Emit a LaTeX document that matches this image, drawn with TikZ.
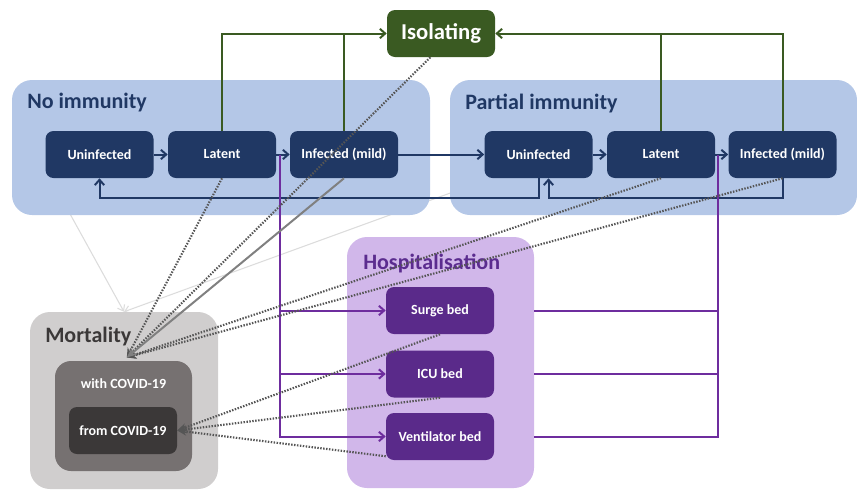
\documentclass[tikz,border=0pt]{standalone}
\usepackage{fontspec}
\setmainfont{Carlito}
\usetikzlibrary{arrows.meta,backgrounds}
\definecolor{statenavy}{HTML}{203864}
\definecolor{immblue}{HTML}{B4C7E7}
\definecolor{isogreen}{HTML}{3A5A22}
\definecolor{hosplilac}{HTML}{D1B7EA}
\definecolor{bedpurple}{HTML}{5A2A8A}
\definecolor{hosptitle}{HTML}{5B2C8F}
\definecolor{hospline}{HTML}{6E2D9E}
\definecolor{mortgray}{HTML}{D0CECE}
\definecolor{withgray}{HTML}{767171}
\definecolor{fromgray}{HTML}{3B3838}
\definecolor{deathdots}{HTML}{555555}
\definecolor{faintgray}{HTML}{DCDCDC}

\begin{document}
\begin{tikzpicture}[x=0.75pt, y=-0.75pt,
        state/.style={fill=statenavy, rounded corners=6pt, minimum width=81pt, minimum height=35.25pt, inner sep=0pt, text=white, font=\bfseries\fontsize{10.5}{12}\selectfont},
        panel/.style={rounded corners=15pt, inner sep=0pt},
        title/.style={anchor=west, inner sep=0pt, font=\bfseries\fontsize{16.5}{19}\selectfont},
        flow/.style={line width=1.5pt, draw=statenavy, -{Straight Barb[length=4pt,width=7pt]}},
        isoflow/.style={line width=1.5pt, draw=isogreen},
        bedflow/.style={line width=1.5pt, draw=hospline},
        death/.style={line width=1.6pt, draw=deathdots, dash pattern=on 1.1pt off 1.1pt, -{Stealth[length=7pt,width=6pt]}},
        faint/.style={line width=0.8pt, draw=faintgray, -{Straight Barb[length=4pt,width=6pt]}}]
        \useasboundingbox (0,0) rectangle (857,490);

        \node[panel, fill=immblue, minimum width=313.5pt, minimum height=101.25pt] (noimm) at (221,147.5) {};
        \node[panel, fill=immblue, minimum width=305.25pt, minimum height=101.25pt] (partimm) at (653.5,147.5) {};
        \node[panel, fill=hosplilac, minimum width=140.25pt, minimum height=188.25pt] (hosp) at (440.5,362.5) {};
        \node[panel, fill=mortgray, minimum width=141pt, minimum height=132.75pt] (mort) at (124,400.5) {};
        \node[panel, fill=withgray, rounded corners=12pt, minimum width=102.75pt, minimum height=82.5pt,
            label={[anchor=north, yshift=-10pt, text=white, font=\bfseries\fontsize{10.5}{12}\selectfont]north:with COVID-19}] (with) at (123.5,416) {};

        \node[title, text=statenavy] (noimmtitle) at (27,103) {No immunity};
        \node[title, text=statenavy] (partimmtitle) at (465,103) {Partial immunity};
        \node[title, text=hosptitle] (hosptitle) at (363,263) {Hospitalisation};
        \node[title, text=fromgray] (morttitle) at (45,337) {Mortality};

        \begin{pgfonlayer}{background}
            \draw[faint] ([shift={(36pt,15pt)}]noimm.south west) -- (mort.north);
            \draw[faint] ([shift={(15pt,22pt)}]partimm.south west) -- (mort.north);
        \end{pgfonlayer}

        \node[state, fill=isogreen, font=\bfseries\fontsize{17}{20}\selectfont] (iso) at (441,33.5) {Isolating};

        \node[state] (unin1) at (99.5,154.5) {Uninfected};
        \node[state] (lat1) at (222,154.5) {Latent};
        \node[state] (inf1) at (344,154.5) {Infected (mild)};
        \node[state] (unin2) at (538.5,154.5) {Uninfected};
        \node[state] (lat2) at (661,154.5) {Latent};
        \node[state] (inf2) at (782.5,154.5) {Infected (mild)};

        \node[state, fill=bedpurple] (surge) at (440,310.5) {Surge bed};
        \node[state, fill=bedpurple] (icu) at (440,374) {ICU bed};
        \node[state, fill=bedpurple] (vent) at (440,436.5) {Ventilator bed};

        \node[state, fill=fromgray] (from) at (123,430.5) {from COVID-19};

        \draw[flow] (unin1) -- (lat1);
        \draw[flow] (lat1) -- (inf1);
        \draw[flow] (inf1) -- (unin2);
        \draw[flow] (unin2) -- (lat2);
        \draw[flow] (lat2) -- (inf2);
        \draw[flow] (unin2.south) -- ++(0,20) -| (unin1.south);
        \draw[flow] (inf2.south) -- ++(0,20) -| ([xshift=7.5pt]unin2.south);

        \draw[isoflow, -{Straight Barb[length=4pt,width=7pt]}] (lat1.north) |- (iso.west);
        \draw[isoflow] (inf1.north) -- (inf1.north |- iso.west);
        \draw[isoflow, -{Straight Barb[length=4pt,width=7pt]}] (inf2.north) |- (iso.east);
        \draw[isoflow] (lat2.north) -- (lat2.north |- iso.east);

        \coordinate (bedsleft) at (280,155);
        \coordinate (bedsright) at (718,155);
        \draw[bedflow, -{Straight Barb[length=4pt,width=7pt]}] (bedsleft) |- (surge.west);
        \draw[bedflow, -{Straight Barb[length=4pt,width=7pt]}] (bedsleft) |- (icu.west);
        \draw[bedflow, -{Straight Barb[length=4pt,width=7pt]}] (bedsleft) |- (vent.west);
        \draw[bedflow] (bedsright) |- (vent.east -| hosp.east);
        \draw[bedflow] (bedsright |- surge.east) -- (surge.east -| hosp.east);
        \draw[bedflow] (bedsright |- icu.east) -- (icu.east -| hosp.east);

        \coordinate (withtip) at ([shift={(2.5pt,2.5pt)}]with.north);
        \draw[death] (lat1.south) -- (withtip);
        \draw[death] ([xshift=-8pt]iso.south) -- (withtip);
        \draw[death] (lat2.south) -- (withtip);
        \draw[death] (inf2.south) -- (withtip);
        \draw[line width=1.5pt, draw=gray, -{Stealth[length=7pt,width=6pt]}] (inf1.south) -- (withtip);
        \draw[death] (surge.south) -- (from.east);
        \draw[death] (icu.south) -- (from.east);
        \draw[death] (vent.200) -- (from.east);
    \end{tikzpicture}
\end{document}
